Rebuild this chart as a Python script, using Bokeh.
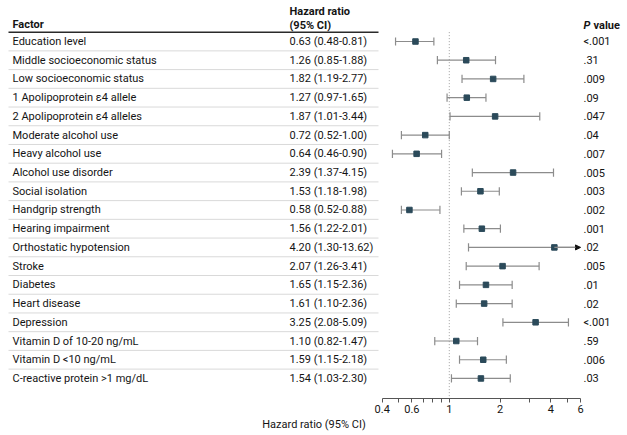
import numpy as np
from bokeh.plotting import figure
from bokeh.models import (Range1d, LogScale, LogAxis, FixedTicker, CustomJSTickFormatter,
                          ColumnDataSource, Arrow, NormalHead)
from bokeh.core.properties import value
from bokeh.embed import file_html
from bokeh.resources import INLINE

# ---------------- data ----------------
factors = ["Education level", "Middle socioeconomic status", "Low socioeconomic status",
           "1 Apolipoprotein \u03b54 allele", "2 Apolipoprotein \u03b54 alleles",
           "Moderate alcohol use", "Heavy alcohol use", "Alcohol use disorder",
           "Social isolation", "Handgrip strength", "Hearing impairment",
           "Orthostatic hypotension", "Stroke", "Diabetes", "Heart disease", "Depression",
           "Vitamin D of 10-20 ng/mL", "Vitamin D <10 ng/mL", "C-reactive protein >1 mg/dL"]
hazard_ratio = [0.63, 1.26, 1.82, 1.27, 1.87, 0.72, 0.64, 2.39, 1.53, 0.58, 1.56, 4.20,
                2.07, 1.65, 1.61, 3.25, 1.10, 1.59, 1.54]
ci_low = [0.48, 0.85, 1.19, 0.97, 1.01, 0.52, 0.46, 1.37, 1.18, 0.52, 1.22, 1.30,
          1.26, 1.15, 1.10, 2.08, 0.82, 1.15, 1.03]
ci_high = [0.81, 1.88, 2.77, 1.65, 3.44, 1.00, 0.90, 4.15, 1.98, 0.88, 2.01, 13.62,
           3.41, 2.36, 2.36, 5.09, 1.47, 2.18, 2.30]
p_values = ["<.001", ".31", ".009", ".09", ".047", ".04", ".007", ".005", ".003", ".002",
            ".001", ".02", ".005", ".01", ".02", "<.001", ".59", ".006", ".03"]
x_ticks = [0.4, 0.6, 1, 2, 4, 6]
x_minor_ticks = [0.5, 0.7, 0.8, 0.9, 3, 5]
x_label = "Hazard ratio (95% CI)"

# ---------------- layout constants ----------------
FONT = "Roboto"
FS = "11px"
TXT = "#141414"
MARK = "#2b4a5a"
BAR = "#8c8c8c"
W, H = 627, 435
PX0 = 0                       # page x of figure left
X_AT_MIN = 381.7              # page x of 0.4
PX_PER_DEC = 168.6
ROW0, ROW_H = 41.0, 18.72     # page y of first row, row pitch
FRAME_TOP, FRAME_BOT = 0.0, 398.0

x_min, x_max = x_ticks[0], x_ticks[-1]
hr_start = 10 ** (np.log10(x_min) - (X_AT_MIN - PX0) / PX_PER_DEC)
hr_end = 10 ** (np.log10(x_min) + (PX0 + W - X_AT_MIN) / PX_PER_DEC)


def py(page_y):
    return (page_y - ROW0) / ROW_H


y_top, y_bot = py(FRAME_TOP), py(FRAME_BOT)

n = len(factors)
rows = np.arange(n, dtype=float)
hr_a = np.array(hazard_ratio)
lo_a = np.array(ci_low)
hi_a = np.array(ci_high)
ci_text = [f"{h:.2f} ({l:.2f}-{u:.2f})" for h, l, u in zip(hazard_ratio, ci_low, ci_high)]

src = ColumnDataSource(dict(y=rows, factor=factors, ci=ci_text, p=p_values,
                            hr=hr_a, lo=lo_a, hi=np.minimum(hi_a, x_max),
                            ya=rows - 0.22, yb=rows + 0.22))
inside = hi_a <= x_max
src_cap = ColumnDataSource(dict(hi=hi_a[inside], ya=rows[inside] - 0.22, yb=rows[inside] + 0.22))

p = figure(width=W, height=H, output_backend="svg", toolbar_location=None,
           x_axis_location=None, y_axis_location=None,
           x_range=Range1d(PX0, PX0 + W), y_range=Range1d(y_bot, y_top),
           extra_x_ranges={"hr": Range1d(hr_start, hr_end)},
           extra_x_scales={"hr": LogScale()},
           min_border_left=0, min_border_right=0, min_border_top=0,
           min_border_bottom=int(H - FRAME_BOT),
           outline_line_color=None, background_fill_color="white")
try:
    p.grid.visible = False
except Exception:
    pass

# row separators and header rule
p.segment(x0=8, x1=378, y0=rows[:-1] + 0.5, y1=rows[:-1] + 0.5, line_color="#d9d9d9", line_width=1)
p.segment(x0=[8], x1=[378], y0=[-0.5], y1=[-0.5], line_color="#2a2a2a", line_width=1.5)

# reference line at HR = 1
p.segment(x0=[1], x1=[1], y0=[-0.5], y1=[y_bot], x_range_name="hr",
          line_color="#a0a0a0", line_dash="1 2", line_width=1)

# error bars
p.segment(x0="lo", x1="hi", y0="y", y1="y", source=src, x_range_name="hr",
          line_color=BAR, line_width=1.2)
p.segment(x0="lo", x1="lo", y0="ya", y1="yb", source=src, x_range_name="hr",
          line_color=BAR, line_width=1.2)
p.segment(x0="hi", x1="hi", y0="ya", y1="yb", source=src_cap, x_range_name="hr",
          line_color=BAR, line_width=1.2)
for i in np.where(~inside)[0]:
    p.add_layout(Arrow(x_start=float(hr_a[i]), y_start=float(rows[i]), x_end=x_max,
                       y_end=float(rows[i]), x_range_name="hr", line_color=BAR, line_width=1.2,
                       end=NormalHead(size=5, fill_color="#111111", line_color="#111111")))

p.scatter(x="hr", y="y", source=src, x_range_name="hr", marker="square", size=5.5,
          fill_color=MARK, line_color=MARK)

# table texts
common = dict(text_font=value(FONT), text_font_size=FS, text_color=TXT,
              text_baseline="middle", text_align="left")
p.text(x=12, y="y", text="factor", source=src, **common)
p.text(x=289, y="y", text="ci", source=src, **common)
p.text(x=583, y="y", text="p", source=src, **common)

hdr = dict(common, text_font_style="bold")
p.text(x=[12], y=[py(24)], text=["Factor"], **hdr)
p.text(x=[289], y=[py(11)], text=["Hazard ratio"], **hdr)
p.text(x=[289], y=[py(25)], text=["(95% CI)"], **hdr)
p.text(x=[583], y=[py(25)], text=["P"], **dict(hdr, text_font_style="bold italic"))
p.text(x=[593], y=[py(25)], text=["value"], **hdr)

# axis
ax = LogAxis(x_range_name="hr", bounds=(x_min, x_max),
             ticker=FixedTicker(ticks=x_ticks, minor_ticks=x_minor_ticks),
             formatter=CustomJSTickFormatter(code="return tick.toString()"),
             axis_label=x_label)
ax.axis_line_color = "#555555"
ax.major_tick_line_color = "#555555"
ax.minor_tick_line_color = "#555555"
ax.major_tick_in = 0
ax.major_tick_out = 4
ax.minor_tick_in = 0
ax.minor_tick_out = 4
ax.major_label_standoff = 2
ax.axis_label_standoff = 2
ax.major_label_text_font = FONT
ax.major_label_text_font_size = FS
ax.major_label_text_color = TXT
ax.axis_label_text_font = FONT
ax.axis_label_text_font_size = FS
ax.axis_label_text_font_style = "normal"
ax.axis_label_text_color = TXT
p.add_layout(ax, "below")

open("out.html", "w").write(file_html(p, INLINE))
